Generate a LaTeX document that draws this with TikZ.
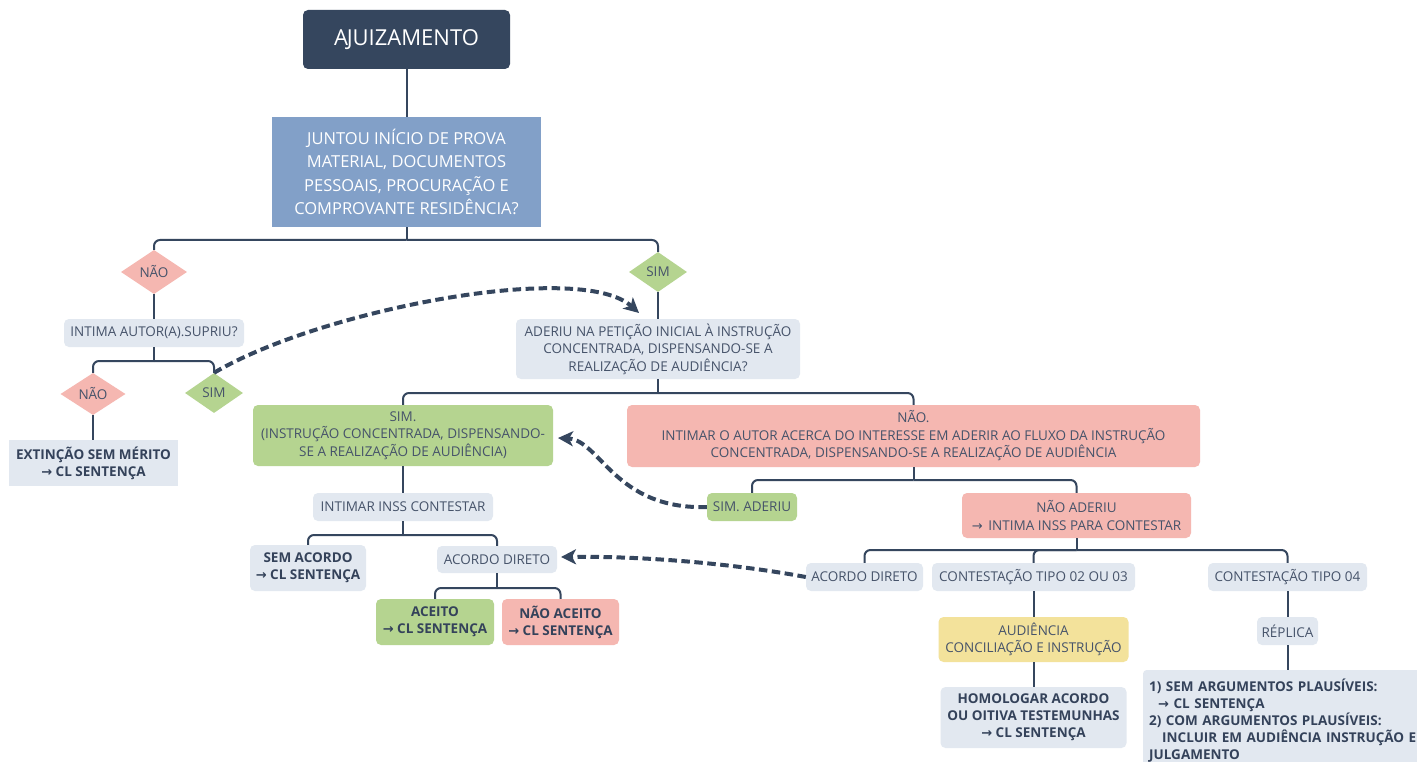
\documentclass[tikz,border=0pt]{standalone}
\usepackage{fontspec}
\setmainfont{Open Sans}
\newfontfamily\arrowfont{DejaVu Sans}
\usetikzlibrary{shapes.geometric,arrows.meta,calc}
\definecolor{dark}{HTML}{35465E}
\definecolor{bluebox}{HTML}{82A0C8}
\definecolor{lightbox}{HTML}{E2E8F0}
\definecolor{pinkbox}{HTML}{F5B7B1}
\definecolor{greenbox}{HTML}{B5D490}
\definecolor{yellowbox}{HTML}{F3E29B}
\definecolor{txt}{HTML}{46536A}
\definecolor{boldtxt}{HTML}{34425A}
\newcommand\arr{{\arrowfont\fontsize{13}{13}\selectfont →}}
\begin{document}
\begin{tikzpicture}[x=1pt,y=-1pt,
  box/.style={rectangle, rounded corners=5pt, fill=lightbox, text=txt, align=center,
    font=\fontsize{13.5}{17.5}\selectfont, inner sep=0pt},
  boldbox/.style={box, text=boldtxt, font=\fontsize{13.5}{17}\selectfont\bfseries},
  dia/.style={diamond, inner sep=0pt, text=txt, font=\fontsize{13.5}{17.5}\selectfont},
  conn/.style={draw=dark, line width=2pt, rounded corners=6pt},
  dasharr/.style={draw=dark, line width=4pt, dash pattern=on 8.5pt off 4.5pt,
    -{Stealth[length=15pt,width=15pt,inset=4pt]}}]
\useasboundingbox (0,0) rectangle (1417,762);
\fill[white] (0,0) rectangle (1417,762);

% nodes
\node[box, fill=dark, text=white, minimum width=207pt, minimum height=59pt,
  font=\fontsize{22}{26}\selectfont] (aj) at (406.5,39.5) {A\kern-1.2pt JUIZAMENTO};
\node[box, rounded corners=0pt, fill=bluebox, text=white, minimum width=269pt, minimum height=110pt,
  font=\fontsize{16.5}{23.3}\selectfont] (ju) at (406.5,172)
  {JUNTOU INÍCIO DE PROVA\\MATERIAL, DOCUMENTOS\\PESSOAIS, PROCURAÇÃO E\\COMPROVANTE RESIDÊNCIA?};
\node[dia, fill=pinkbox, minimum width=66pt, minimum height=44pt] (nao1) at (154,272) {NÃO};
\node[dia, fill=greenbox, minimum width=58pt, minimum height=40pt] (sim1) at (658,272) {SIM};
\node[box, minimum width=180pt, minimum height=28pt] (intima) at (154,333) {INTIMA AUTOR(A).SUPRIU?};
\node[dia, fill=pinkbox, minimum width=65pt, minimum height=42pt] (nao2) at (93,394) {NÃO};
\node[dia, fill=greenbox, minimum width=58pt, minimum height=40pt] (sim2) at (214,393) {SIM};
\node[boldbox, rounded corners=0pt, minimum width=169pt, minimum height=46pt] (ext) at (93.5,463)
  {EXTINÇÃO SEM MÉRITO\\\arr{} CL SENTENÇA};
\node[box, minimum width=284pt, minimum height=60pt] (ad) at (658,349)
  {ADERIU NA PETIÇÃO INICIAL À INSTRUÇÃO\\CONCENTRADA, DISPENSANDO-SE A\\REALIZAÇÃO DE AUDIÊNCIA?};
\node[box, fill=greenbox, minimum width=300pt, minimum height=61pt] (simbox) at (403,435.5)
  {SIM.\\(INSTRUÇÃO CONCENTRADA, DISPENSANDO-\\SE A REALIZAÇÃO DE AUDIÊNCIA)};
\node[box, fill=pinkbox, minimum width=573pt, minimum height=62pt] (naobox) at (913.5,436)
  {NÃO.\\INTIMAR O AUTOR ACERCA DO INTERESSE EM ADERIR AO FLUXO DA INSTRUÇÃO\\CONCENTRADA, DISPENSANDO-SE A REALIZAÇÃO DE AUDIÊNCIA};
\node[box, fill=greenbox, minimum width=90pt, minimum height=28pt] (simad) at (752,507) {SIM. ADERIU};
\node[box, fill=pinkbox, minimum width=229pt, minimum height=45pt] (naoad) at (1076.5,515.5)
  {NÃO ADERIU\\\arr{}\, INTIMA INSS PARA CONTESTAR};
\node[box, minimum width=180pt, minimum height=28pt] (inss) at (403,507) {INTIMAR INSS CONTESTAR};
\node[boldbox, minimum width=116pt, minimum height=46pt] (semac) at (308,568)
  {SEM ACORDO\\\arr{} CL SENTENÇA};
\node[box, minimum width=120pt, minimum height=27pt] (acd1) at (497,559.5) {ACORDO DIRETO};
\node[boldbox, fill=greenbox, minimum width=118pt, minimum height=46pt] (aceito) at (435,622)
  {ACEITO\\\arr{} CL SENTENÇA};
\node[boldbox, fill=pinkbox, minimum width=117pt, minimum height=46pt] (naoac) at (560.5,622)
  {NÃO ACEITO\\\arr{} CL SENTENÇA};
\node[box, minimum width=117pt, minimum height=28pt] (acd2) at (864.5,577) {ACORDO DIRETO};
\node[box, minimum width=203pt, minimum height=28pt] (c23) at (1033.5,577) {CONTESTAÇÃO TIPO 02 OU 03};
\node[box, minimum width=159pt, minimum height=28pt] (c04) at (1287.5,577) {CONTESTAÇÃO TIPO 04};
\node[box, fill=yellowbox, minimum width=190pt, minimum height=45pt] (aud) at (1033.5,639.5)
  {AUDIÊNCIA\\CONCILIAÇÃO E INSTRUÇÃO};
\node[boldbox, minimum width=186pt, minimum height=61pt] (hom) at (1033.5,717.5)
  {HOMOLOGAR ACORDO\\OU OITIVA TESTEMUNHAS\\\arr{} CL SENTENÇA};
\node[box, minimum width=61pt, minimum height=28pt] (rep) at (1287.5,631) {RÉPLICA};
\node[boldbox, align=left, anchor=north west, minimum width=289pt, minimum height=100pt,
  text width=277pt, inner xsep=6pt, rounded corners=3pt] (big) at (1143,670)
  {1) SEM ARGUMENTOS PLAUSÍVEIS:\\\hspace*{9pt}\arr{} CL SENTENÇA\\2) COM ARGUMENTOS PLAUSÍVEIS:\\\hspace*{13pt}INCLUIR EM AUDIÊNCIA INSTRUÇÃO E\\JULGAMENTO};

% bar coordinates
\coordinate (b1) at (0,240);
\coordinate (b2) at (0,361);
\coordinate (b3) at (0,393);
\coordinate (b4) at (0,480);
\coordinate (b5) at (0,535);
\coordinate (b6) at (0,588);
\coordinate (b7) at (0,550);

% connectors
\draw[conn] (aj.south) -- (aj.south |- ju.north);
\draw[conn] (ju.south) -- (ju.south |- b1);
\draw[conn] (ju.south |- b1) -| (nao1.north);
\draw[conn] (ju.south |- b1) -| (sim1.north);
\draw[conn] (nao1.south) -- (nao1.south |- intima.north);
\draw[conn] (intima.south) -- (intima.south |- b2);
\draw[conn] (intima.south |- b2) -| (nao2.north);
\draw[conn] (intima.south |- b2) -| (sim2.north);
\draw[conn] (nao2.south) -- (nao2.south |- ext.north);
\draw[conn] (sim1.south) -- (sim1.south |- ad.north);
\draw[conn] (ad.south) -- (ad.south |- b3);
\draw[conn] (ad.south |- b3) -| (simbox.north);
\draw[conn] (ad.south |- b3) -| (naobox.north);
\draw[conn] (naobox.south) -- (naobox.south |- b4);
\draw[conn] (naobox.south |- b4) -| (simad.north);
\draw[conn] (naobox.south |- b4) -| (naoad.north);
\draw[conn] (simbox.south) -- (simbox.south |- inss.north);
\draw[conn] (inss.south) -- (inss.south |- b5);
\draw[conn] (inss.south |- b5) -| (semac.north);
\draw[conn] (inss.south |- b5) -| (acd1.north);
\draw[conn] (acd1.south) -- (acd1.south |- b6);
\draw[conn] (acd1.south |- b6) -| (aceito.north);
\draw[conn] (acd1.south |- b6) -| (naoac.north);
\draw[conn] (naoad.south) -- (naoad.south |- b7);
\draw[conn] (naoad.south |- b7) -| (acd2.north);
\draw[conn] (naoad.south |- b7) -| (c23.north);
\draw[conn] (naoad.south |- b7) -| (c04.north);
\draw[conn] (c23.south) -- (c23.south |- aud.north);
\draw[conn] (aud.south) -- (aud.south |- hom.north);
\draw[conn] (c04.south) -- (c04.south |- rep.north);
\draw[conn] (rep.south) -- (rep.south |- big.north);

% dashed arrows
\coordinate (adtip) at (639,313);
\draw[dasharr] (sim2.north) .. controls (320,310) and (580,260) .. (adtip);
\coordinate (simtip) at (558,438);
\draw[dasharr] (simad.west) .. controls (615,510) and (600,440) .. (simtip);
\coordinate (acdtip) at (561,557);
\draw[dasharr] (acd2.west) .. controls (730,563) and (640,556) .. (acdtip);
\end{tikzpicture}
\end{document}
